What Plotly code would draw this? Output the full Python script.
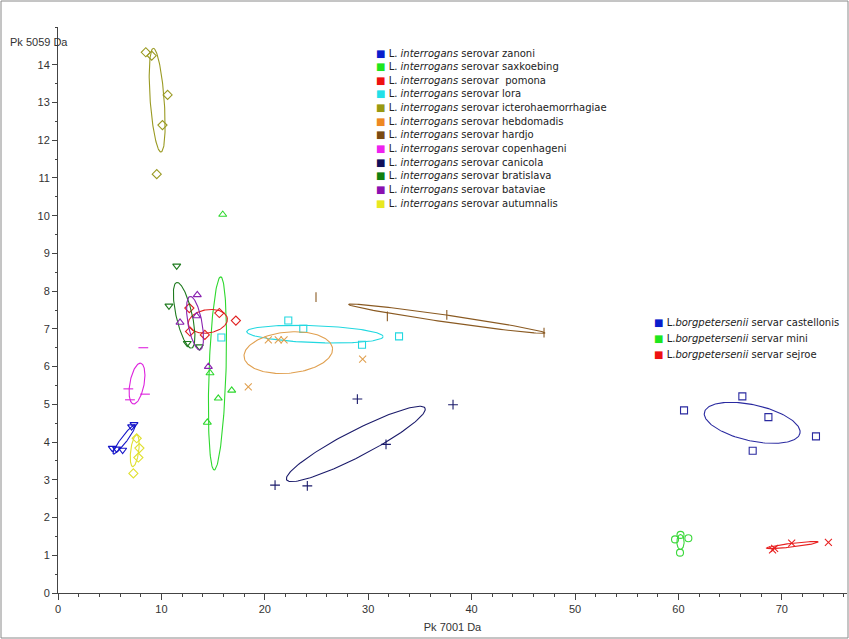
import numpy as np
import plotly.graph_objects as go

# ---- groups (peak intensities, Pk 7001 Da vs Pk 5059 Da) ----
zanoni_x = [5.25, 5.67, 6.25, 7.12, 7.35]
zanoni_y = [3.84, 3.82, 3.79, 4.41, 4.47]
saxkoebing_x = [15.93, 14.7, 15.5, 16.8, 14.44]
saxkoebing_y = [10.03, 5.83, 5.16, 5.37, 4.52]
pomona_x = [12.7, 15.6, 17.2, 12.77, 14.2]
pomona_y = [7.55, 7.42, 7.22, 6.93, 6.84]
lora_x = [22.27, 23.72, 15.8, 29.4, 32.98]
lora_y = [7.22, 7.0, 6.77, 6.58, 6.8]
ictero_x = [8.49, 9.06, 10.6, 10.1, 9.55]
ictero_y = [14.33, 14.24, 13.2, 12.4, 11.1]
hebdomadis_x = [20.34, 21.3, 21.86, 29.46, 18.4]
hebdomadis_y = [6.71, 6.71, 6.71, 6.2, 5.46]
hardjo_x = [24.95, 31.85, 37.6, 47.0]
hardjo_y = [7.84, 7.33, 7.37, 6.9]
copenhageni_x = [8.25, 6.8, 6.96, 8.41]
copenhageni_y = [6.5, 5.41, 5.12, 5.27]
canicola_x = [28.95, 31.72, 20.99, 24.11, 38.2]
canicola_y = [5.14, 3.94, 2.86, 2.84, 4.99]
bratislava_x = [11.48, 10.73, 12.5, 13.67]
bratislava_y = [8.67, 7.61, 6.62, 6.53]
bataviae_x = [13.47, 11.8, 13.4, 14.54]
bataviae_y = [7.9, 7.17, 7.34, 6.0]
autumnalis_x = [7.61, 7.87, 7.77, 7.29]
autumnalis_y = [4.1, 3.84, 3.59, 3.17]
castellonis_x = [60.54, 66.18, 68.7, 73.3, 67.18]
castellonis_y = [4.84, 5.21, 4.66, 4.15, 3.77]
mini_x = [59.67, 60.2, 60.96, 60.15]
mini_y = [1.42, 1.54, 1.45, 1.07]
sejroe_x = [69.1, 69.3, 70.95, 74.5]
sejroe_y = [1.14, 1.18, 1.32, 1.34]

# confidence ellipses: centre, first and second half-axis vectors (data units)
ell_cx = [6.4, 15.42, 14.49, 24.85, 9.59, 22.27, 37.6, 7.64, 28.8, 12.2, 13.25, 7.42, 67.13, 60.2, 71.03]
ell_cy = [4.07, 5.82, 7.2, 6.86, 13.06, 6.37, 7.27, 5.55, 3.95, 7.36, 7.15, 3.77, 4.51, 1.35, 1.27]
ell_ux = [1.05, 0.31, 1.886, 6.6, -0.372, 4.28, 9.51, 0.358, 6.69, -0.725, -0.48, 0.193, 4.62, 0.0, 2.5]
ell_uy = [0.385, 2.56, 0.08, -0.066, 1.375, 0.106, -0.377, 0.54, 0.95, 0.87, 0.71, 0.42, -0.279, 0.2, 0.08]
ell_vx = [0.232, 0.82, 0.17, 0.0, 0.675, 0.145, -0.048, 0.677, 0.578, 0.754, 0.667, 0.387, -0.374, 0.35, 0.0]
ell_vy = [-0.048, -0.007, -0.305, 0.225, 0.014, -0.544, -0.092, -0.034, -0.306, 0.047, 0.034, -0.013, -0.467, 0.0, 0.05]

groups = [
    ("zanoni", "#1414c8", "#0a1ecc", "triangle-down-open", zanoni_x, zanoni_y),
    ("saxkoebing", "#2ed82e", "#1ee61e", "triangle-up-open", saxkoebing_x, saxkoebing_y),
    ("pomona", "#e02020", "#ee1111", "diamond-open", pomona_x, pomona_y),
    ("lora", "#22d8e0", "#22e0e8", "square-open", lora_x, lora_y),
    ("icterohaemorrhagiae", "#9a9a22", "#999911", "diamond-open", ictero_x, ictero_y),
    ("hebdomadis", "#e0a050", "#ee8822", "x-thin-open", hebdomadis_x, hebdomadis_y),
    ("hardjo", "#8a5a22", "#7a4a12", "line-ns-open", hardjo_x, hardjo_y),
    ("copenhageni", "#dd22dd", "#ee22ee", "line-ew-open", copenhageni_x, copenhageni_y),
    ("canicola", "#1a1a6a", "#10105a", "cross-thin-open", canicola_x, canicola_y),
    ("bratislava", "#1e7a1e", "#108010", "triangle-down-open", bratislava_x, bratislava_y),
    ("bataviae", "#8a22b0", "#8a10b0", "triangle-up-open", bataviae_x, bataviae_y),
    ("autumnalis", "#e0e030", "#e8e820", "diamond-open", autumnalis_x, autumnalis_y),
    ("castellonis", "#2a2aa0", "#0a1ecc", "square-open", castellonis_x, castellonis_y),
    ("mini", "#3ad83a", "#1ee61e", "circle-open", mini_x, mini_y),
    ("sejroe", "#e82020", "#ee1111", "x-thin-open", sejroe_x, sejroe_y),
]

W, H = 849, 639
ML, MR, MT, MB = 58, 2, 27, 46
PW, PH = W - ML - MR, H - MT - MB

fig = go.Figure()
t = np.linspace(0, 2 * np.pi, 160)
for i, (name, col, lcol, sym, xs, ys) in enumerate(groups):
    ex = ell_cx[i] + ell_ux[i] * np.cos(t) + ell_vx[i] * np.sin(t)
    ey = ell_cy[i] + ell_uy[i] * np.cos(t) + ell_vy[i] * np.sin(t)
    fig.add_trace(go.Scatter(x=ex, y=ey, mode="lines", line=dict(color=col, width=1.1),
                             hoverinfo="skip", showlegend=False))
    fig.add_trace(go.Scatter(x=xs, y=ys, mode="markers", name=name, showlegend=False,
                             marker=dict(symbol=sym, size=7, color=col,
                                         line=dict(color=col, width=1.1))))

# legends
def px(xp):
    return (xp - ML) / PW

def py(yp):
    return 1 - (yp - MT) / PH

annotations = []
top_rows = groups[:12]
for k, (name, col, lcol, sym, xs, ys) in enumerate(top_rows):
    txt = (f'<span style="color:{lcol}">\u25A0</span> L. <i>interrogans</i> serovar '
           + ("&#160;" if name == "pomona" else "") + name)
    annotations.append(dict(x=px(374), y=py(53 + k * 13.65), xref="paper", yref="paper",
                            text=txt, showarrow=False, xanchor="left", yanchor="middle",
                            font=dict(family="DejaVu Sans", size=10, color="#222")))
for k, (name, col, lcol, sym, xs, ys) in enumerate(groups[12:]):
    txt = f'<span style="color:{lcol}">\u25A0</span> L.<i>borgpetersenii</i> servar {name}'
    annotations.append(dict(x=px(652), y=py(322 + k * 16), xref="paper", yref="paper",
                            text=txt, showarrow=False, xanchor="left", yanchor="middle",
                            font=dict(family="DejaVu Sans", size=10, color="#222")))

annotations.append(dict(x=px(8), y=py(42), xref="paper", yref="paper", text="Pk 5059 Da",
                        showarrow=False, xanchor="left", yanchor="middle",
                        font=dict(family="Liberation Sans", size=11, color="#333")))

fig.update_layout(
    width=W, height=H,
    margin=dict(l=ML, r=MR, t=MT, b=MB),
    paper_bgcolor="white", plot_bgcolor="white",
    showlegend=False,
    annotations=annotations,
    shapes=[dict(type="rect", xref="paper", yref="paper",
                 x0=px(1), x1=px(W - 1), y0=py(H - 1), y1=py(1),
                 line=dict(color="#8a8a8a", width=1))],
    font=dict(family="Liberation Sans", size=11, color="#333"),
)
fig.update_xaxes(range=[0, 76.3], tickvals=list(range(0, 80, 10)), ticks="outside", ticklen=6,
                 tickcolor="#444", showline=True, linecolor="#444", linewidth=1,
                 showgrid=False, zeroline=False,
                 minor=dict(dtick=2, ticks="outside", ticklen=3, tickcolor="#444"),
                 title=dict(text="Pk 7001 Da", standoff=9, font=dict(size=11)))
fig.update_yaxes(range=[0, 15], tickvals=list(range(0, 15)), ticks="outside", ticklen=5,
                 tickcolor="#444", showline=True, linecolor="#444", linewidth=1,
                 showgrid=False, zeroline=False,
                 minor=dict(dtick=0.5, ticks="outside", ticklen=2, tickcolor="#444"))

fig.write_html("out.html")
